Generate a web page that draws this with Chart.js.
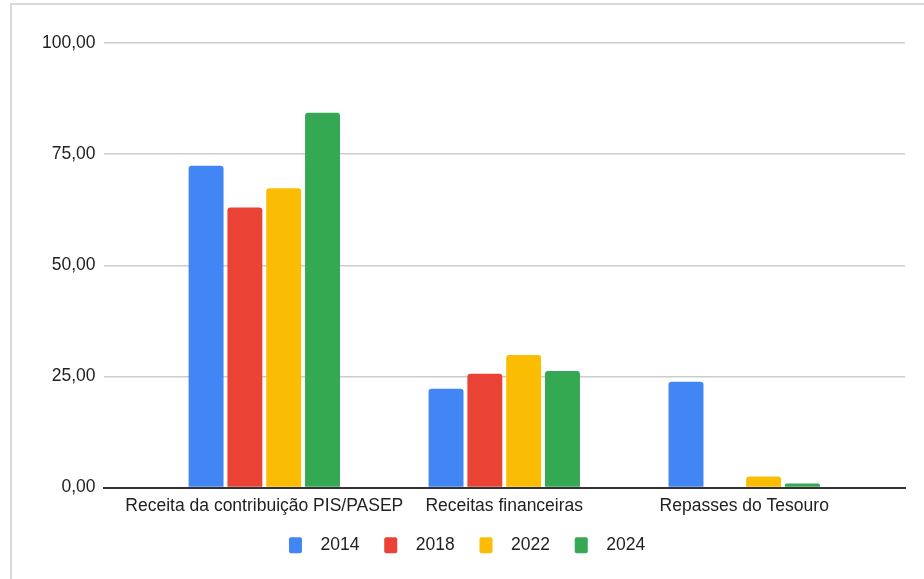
<!DOCTYPE html>
<html>
<head>
<meta charset="utf-8">
<script src="https://cdn.jsdelivr.net/npm/chart.js@4"></script>
<style>
  html, body { margin: 0; padding: 0; background: #fff; }
  #frame {
    position: absolute; left: 10px; top: 3px;
    width: 930px; height: 590px;
    border-left: 2px solid #d9d9d9; border-top: 2px solid #d9d9d9;
    box-sizing: border-box;
  }
  #wrap { position: absolute; left: 0; top: 0; width: 924px; height: 579px; }
</style>
</head>
<body>
<div id="frame"></div>
<div id="wrap"><canvas id="receitasChart"></canvas></div>
<script>
// categorias e valores por ano
const categorias = ["Receita da contribuição PIS/PASEP", "Receitas financeiras", "Repasses do Tesouro"];
const anos = ["2014", "2018", "2022", "2024"];
const valores2014 = [72.4, 22.2, 23.8];
const valores2018 = [63.0, 25.6, 0];
const valores2022 = [67.3, 29.8, 2.5];
const valores2024 = [84.3, 26.2, 0.9];
const ticksY = [0, 25, 50, 75, 100];
const cores = ["#4285f4", "#ea4335", "#fbbc04", "#34a853"];

const series = [valores2014, valores2018, valores2022, valores2024];

function pontos(vals) {
  return vals.map(function (v, i) { return { x: i, y: v }; });
}

const fonte = { family: "'Liberation Sans', Arial, sans-serif", size: 17.5 };

new Chart(document.getElementById("receitasChart"), {
  type: "bar",
  data: {
    datasets: anos.map(function (ano, k) {
      return {
        label: ano,
        data: pontos(series[k]),
        backgroundColor: cores[k],
        borderRadius: { topLeft: 3, topRight: 3 },
        borderSkipped: "bottom",
        categoryPercentage: 0.647,
        barPercentage: 0.9,
      };
    }),
  },
  options: {
    responsive: true,
    maintainAspectRatio: false,
    animation: false,
    layout: { padding: { left: 34, right: 19, top: 43, bottom: 15 } },
    plugins: {
      tooltip: { enabled: false },
      legend: {
        position: "bottom",
        labels: {
          color: "#222",
          font: fonte,
          boxWidth: 13,
          boxHeight: 16,
          padding: 20,
          useBorderRadius: true,
          borderRadius: 2,
          generateLabels: function (chart) {
            // mais espaço entre a caixa de cor e o ano
            return Chart.defaults.plugins.legend.labels.generateLabels(chart).map(function (item) {
              item.text = "  " + item.text + " ";
              return item;
            });
          },
        },
      },
    },
    scales: {
      x: {
        type: "linear",
        offset: false,
        min: -0.67,
        max: 2.67,
        afterBuildTicks: function (axis) {
          axis.ticks = categorias.map(function (c, i) { return { value: i }; });
        },
        ticks: {
          color: "#222",
          font: fonte,
          maxRotation: 0,
          autoSkip: false,
          padding: 0,
          callback: function (v) { return categorias[v]; },
        },
        grid: { display: false },
        border: { color: "#333", width: 2 },
      },
      y: {
        min: 0,
        max: 100,
        afterBuildTicks: function (axis) {
          axis.ticks = ticksY.map(function (v) { return { value: v }; });
        },
        ticks: {
          color: "#222",
          font: fonte,
          padding: 8,
          callback: function (v) { return v.toFixed(2).replace(".", ","); },
        },
        grid: { color: "#cccccc", lineWidth: 1.5, drawTicks: false },
        border: { display: false },
      },
    },
  },
});
</script>
</body>
</html>
